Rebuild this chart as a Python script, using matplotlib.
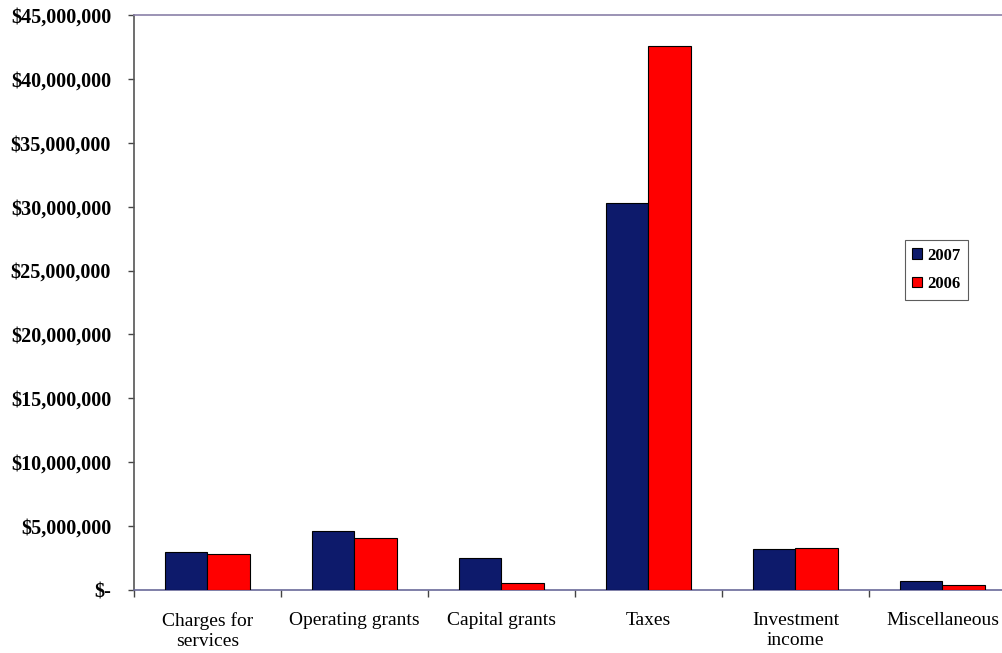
import matplotlib
matplotlib.use("Agg")
import matplotlib.pyplot as plt
import numpy as np
from matplotlib.ticker import FuncFormatter, FixedLocator, NullFormatter

categories = ["Charges for\nservices", "Operating grants", "Capital grants",
              "Taxes", "Investment\nincome", "Miscellaneous"]
series_names = ["2007", "2006"]
values_2007 = [2950000, 4640000, 2480000, 30300000, 3180000, 700000]
values_2006 = [2820000, 4070000, 570000, 42600000, 3310000, 390000]
colors = ["#0d1a6b", "#ff0000"]

plt.rcParams['font.family'] = ['Liberation Serif', 'DejaVu Serif']

fig = plt.figure(figsize=(10.03, 6.53), dpi=100)
W, H = 1003, 653
left, right, top, bottom = 134, 1016, 15, 590
ax = fig.add_axes([left / W, 1 - bottom / H, (right - left) / W, (bottom - top) / H])

x = np.arange(len(categories))
bw = 0.29
ax.bar(x - bw / 2, values_2007, bw, color=colors[0], edgecolor='black', linewidth=0.8,
       label=series_names[0], zorder=3)
ax.bar(x + bw / 2, values_2006, bw, color=colors[1], edgecolor='black', linewidth=0.8,
       label=series_names[1], zorder=3)

ax.set_xlim(-0.5, len(categories) - 0.5)
ax.set_ylim(0, 45000000)
ax.set_yticks(np.arange(0, 45000001, 5000000))

def fmt(v, pos):
    if v == 0:
        return "$-"
    return "${:,.0f}".format(v)

ax.yaxis.set_major_formatter(FuncFormatter(fmt))
for lab in ax.get_yticklabels():
    lab.set_fontweight('bold')
ax.tick_params(axis='y', labelsize=14.5, length=4.5, width=1, direction='out', color='#444444', pad=12)

# category boundary ticks and centered labels
ax.xaxis.set_major_locator(FixedLocator(np.arange(-0.5, len(categories), 1.0)))
ax.xaxis.set_major_formatter(NullFormatter())
ax.xaxis.set_minor_locator(FixedLocator(x))
ax.set_xticklabels(categories, minor=True)
ax.tick_params(axis='x', which='major', length=5, width=1, direction='out', color='#444444')
ax.tick_params(axis='x', which='minor', length=0, labelsize=14, pad=16)
for lab in ax.get_xticklabels(minor=True):
    lab.set_verticalalignment('top')
    lab.set_linespacing(1.25)

ax.spines['left'].set_color('#555555')
ax.spines['bottom'].set_color('#6a6a9a')
ax.spines['top'].set_color('#8a80a8')
ax.spines['right'].set_visible(False)
for s in ax.spines.values():
    s.set_linewidth(1.2)

leg = ax.legend(loc='upper left', bbox_to_anchor=((905 - left) / (right - left), 1 - (240 - top) / (bottom - top)),
                frameon=True, fancybox=False, edgecolor='#333333', fontsize=12,
                handlelength=0.6, handleheight=0.6, handletextpad=0.3,
                borderpad=0.45, labelspacing=0.75, borderaxespad=0)
leg.get_frame().set_linewidth(0.8)
for t in leg.get_texts():
    t.set_fontweight('bold')

fig.savefig("out.png", dpi=100)
